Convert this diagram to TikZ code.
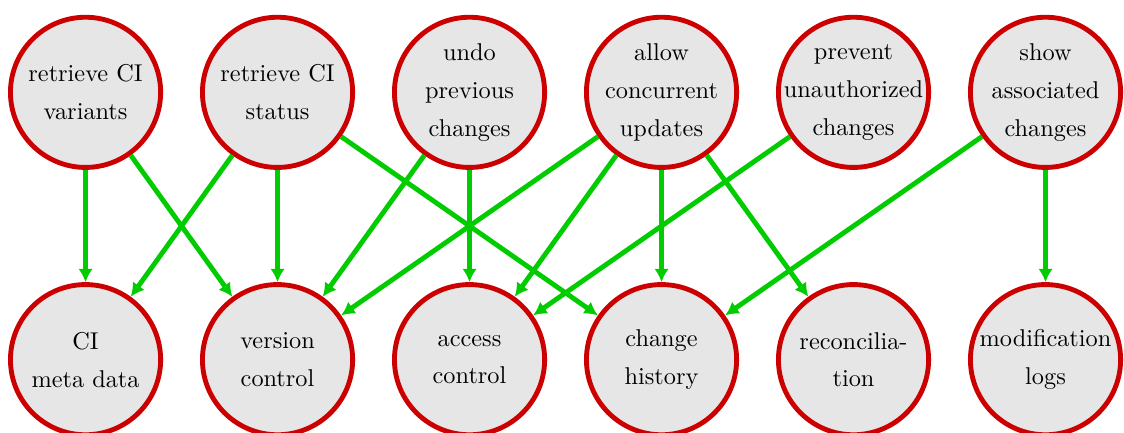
\documentclass[tikz,border=0pt]{standalone}
\usetikzlibrary{arrows.meta}
\linespread{1.3}
\definecolor{reqred}{RGB}{204,0,0}
\definecolor{depgreen}{RGB}{0,204,0}
\definecolor{reqgray}{RGB}{230,230,230}
\tikzset{
	req/.style={circle,draw=reqred,fill=reqgray,line width=2pt,minimum size=61.8pt,inner sep=-5pt,align=center},
	dep/.style={draw=depgreen,line width=2pt,-{Latex[length=5.5pt,width=6pt]}}
}
\begin{document}
\begin{tikzpicture}[x=1pt,y=1pt]
			\useasboundingbox (-35.2,38) rectangle (427.3,-140);
			\path
			(0,0) node[req] (variants) {retrieve CI\\variants}
			(79,0) node[req] (status) {retrieve CI\\status}
			(158,0) node[req] (undo) {undo\\previous\\changes}
			(237,0) node[req] (concurrent) {allow\\concurrent\\updates}
			(316,0) node[req] (prevent) {prevent\\unauthorized\\changes}
			(395,0) node[req] (show) {show\\associated\\changes}
			(0,-110) node[req] (meta) {CI\\meta data}
			(79,-110) node[req] (version) {version\\control}
			(158,-110) node[req] (access) {access\\control}
			(237,-110) node[req] (history) {change\\history}
			(316,-110) node[req] (reconcile) {reconcilia-\\tion}
			(395,-110) node[req] (logs) {modification\\logs};
			\foreach \a/\b in {variants/meta,variants/version,status/meta,status/version,status/history,undo/version,undo/access,concurrent/version,concurrent/access,concurrent/history,concurrent/reconcile,prevent/access,show/history,show/logs} \draw[dep] (\a)--(\b);
		\end{tikzpicture}
\end{document}
